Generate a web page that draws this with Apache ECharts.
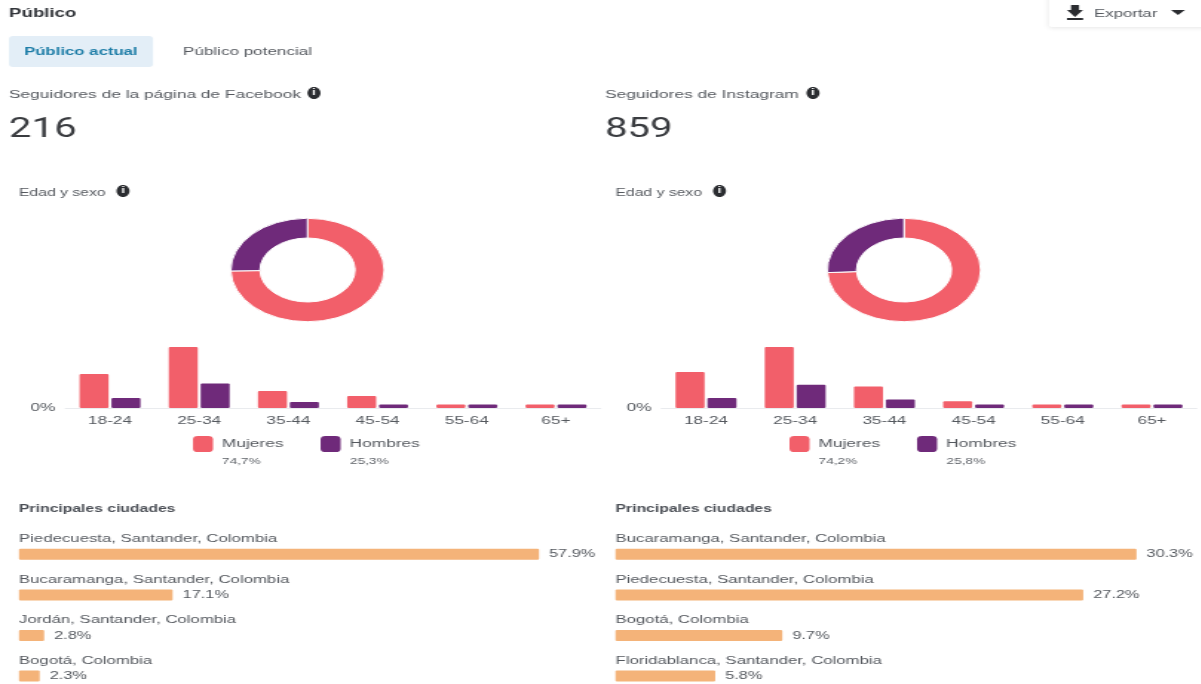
<!DOCTYPE html>
<html>
<head>
<meta charset="utf-8">
<title>Público</title>
<style>
  html, body { margin: 0; padding: 0; background: #fff; overflow: hidden; }
  #chart { height: 684px; transform-origin: 0 0; }
</style>
</head>
<body>
<div id="chart"></div>
<script src="https://cdn.jsdelivr.net/npm/echarts@6/dist/echarts.min.js"></script>
<script>
const FONT = 'Liberation Sans'
const RED = '#f25f6a'
const PURPLE = '#6f2a7a'
const ORANGE = '#f4b379'
const TEXT = '#55595f'

// the reference screenshot is stretched sideways, so the whole page is drawn
// narrow and widened with css. all x values below go through px()
const SX = 1.484
const px = x => x / SX

const ageGroups = ['18-24', '25-34', '35-44', '45-54', '55-64', '65+']

// facebook, left column
const fbFollowers = '216'
const fbWomen = [19.4, 34.8, 9.7, 6.8, 2, 2]
const fbMen = [5.7, 14, 3.4, 2, 2, 2]
const fbShare = [74.7, 25.3]
const fbShareLabels = ['74,7%', '25,3%']
const fbCities = ['Piedecuesta, Santander, Colombia', 'Bucaramanga, Santander, Colombia', 'Jordán, Santander, Colombia', 'Bogotá, Colombia']
const fbCityValues = [57.9, 17.1, 2.8, 2.3]

// instagram, right column
const igFollowers = '859'
const igWomen = [20.5, 34.8, 12.2, 3.8, 2, 2]
const igMen = [5.7, 13.3, 4.8, 2, 2, 2]
const igShare = [74.2, 25.8]
const igShareLabels = ['74,2%', '25,8%']
const igCities = ['Bucaramanga, Santander, Colombia', 'Piedecuesta, Santander, Colombia', 'Bogotá, Colombia', 'Floridablanca, Santander, Colombia']
const igCityValues = [30.3, 27.2, 9.7, 5.8]

const el = document.getElementById('chart')
el.style.width = px(1201) + 'px'
el.style.transform = `scaleX(${SX})`
const chart = echarts.init(el)

const txt = (x, y, text, size, color, weight, family) => ({
  type: 'text',
  x: px(x), y,
  z: 10,
  style: {
    text,
    fill: color || TEXT,
    font: `${weight || 'normal'} ${size}px "${family || FONT}"`,
    verticalAlign: 'middle'
  }
})

const info = (x, y) => ({
  type: 'group',
  z: 10,
  children: [
    { type: 'ellipse', shape: { cx: px(x), cy: y, rx: px(6.5), ry: 6 }, style: { fill: '#2b2d31' } },
    {
      type: 'text', x: px(x), y,
      style: { text: 'i', fill: '#fff', font: `bold 9px "${FONT}"`, align: 'center', verticalAlign: 'middle' }
    }
  ]
})

const column = (dx, idx, o) => {
  const grids = [
    { left: px(o.barLeft), top: 347, width: px(535.2), height: 61, outerBoundsMode: 'none' },
    { left: px(o.cityLeft), top: 534, width: px(o.cityWidth), height: 162.4, outerBoundsMode: 'none' }
  ]
  const xAxes = [
    {
      type: 'category', gridIndex: idx * 2, data: ageGroups,
      axisTick: { show: false },
      axisLine: { lineStyle: { color: '#e9ebee' } },
      axisLabel: { color: TEXT, fontFamily: FONT, fontSize: 11.6, margin: 7 }
    },
    { type: 'value', gridIndex: idx * 2 + 1, min: 0, max: o.cityMax, show: false }
  ]
  const yAxes = [
    {
      type: 'value', gridIndex: idx * 2, min: 0, max: 34.8, interval: 34.8,
      splitLine: { show: false },
      axisLine: { show: false },
      axisTick: { show: false },
      axisLabel: {
        color: TEXT, fontFamily: FONT, fontSize: 11.6, margin: px(10),
        padding: [4, 0, 0, 0],
        formatter: v => (v === 0 ? '0%' : '')
      }
    },
    {
      type: 'category', gridIndex: idx * 2 + 1, data: o.cities, inverse: true,
      axisLine: { show: false },
      axisTick: { show: false },
      axisLabel: {
        inside: true, margin: 0, align: 'left', verticalAlign: 'bottom',
        padding: [0, 0, 10, 0],
        color: TEXT, fontFamily: FONT, fontSize: 11.3
      }
    }
  ]
  const barOpts = { type: 'bar', barWidth: px(29), barGap: '10%', xAxisIndex: idx * 2, yAxisIndex: idx * 2 }
  const series = [
    { ...barOpts, name: 'Mujeres', data: o.women, itemStyle: { color: RED, borderRadius: 1 } },
    { ...barOpts, name: 'Hombres', data: o.men, itemStyle: { color: PURPLE, borderRadius: 1 } },
    {
      type: 'bar', name: 'Ciudades', data: o.cityValues, barWidth: 11,
      xAxisIndex: idx * 2 + 1, yAxisIndex: idx * 2 + 1,
      itemStyle: { color: ORANGE, borderRadius: 1 },
      label: {
        show: true, position: 'right', distance: px(10), color: TEXT,
        fontFamily: FONT, fontSize: 11,
        formatter: p => p.value + '%'
      }
    },
    {
      type: 'pie', radius: [32, 51.7], center: [px(307.5 + dx), 270],
      startAngle: 90, silent: true,
      label: { show: false },
      labelLine: { show: false },
      itemStyle: { borderColor: '#fff', borderWidth: 1 },
      data: [
        { name: 'Mujeres', value: o.share[0], itemStyle: { color: RED } },
        { name: 'Hombres', value: o.share[1], itemStyle: { color: PURPLE } }
      ]
    }
  ]
  const legend = {
    left: px(193 + dx), top: 436, itemWidth: px(20), itemHeight: 16, itemGap: px(37),
    icon: 'roundRect', padding: 0,
    data: ['Mujeres', 'Hombres'],
    textStyle: { color: TEXT, fontFamily: FONT, fontSize: 11.7, padding: [5, 0, 0, 1] }
  }
  const graphic = [
    txt(9 + dx - o.headShift, 95, o.heading, 11.7),
    info(o.infoX, 93),
    txt(9 + dx - o.headShift, 130, o.followers, 27, '#3a3c40', 'normal', 'Roboto'),
    txt(19 + dx, 193, 'Edad y sexo', 10.6),
    info(123 + dx, 191),
    txt(222 + dx, 461, o.shareLabels[0], 9.2, '#5f6369'),
    txt(350 + dx, 461, o.shareLabels[1], 9.2, '#5f6369'),
    txt(19 + dx, 509, 'Principales ciudades', 10.6, '#4b4f56', 'bold')
  ]
  return { grids, xAxes, yAxes, series, legend, graphic }
}

const left = column(0, 0, {
  barLeft: 65.4, cityLeft: 19, cityWidth: 520, cityMax: 57.9, headShift: 0, infoX: 314,
  heading: 'Seguidores de la página de Facebook', followers: fbFollowers,
  women: fbWomen, men: fbMen, share: fbShare, shareLabels: fbShareLabels,
  cities: fbCities, cityValues: fbCityValues
})
const right = column(596.5, 1, {
  barLeft: 661.4, cityLeft: 615.5, cityWidth: 521, cityMax: 30.3, headShift: 0.5, infoX: 813,
  heading: 'Seguidores de Instagram', followers: igFollowers,
  women: igWomen, men: igMen, share: igShare, shareLabels: igShareLabels,
  cities: igCities, cityValues: igCityValues
})

const pageHeader = [
  txt(9, 14, 'Público', 12.6, '#33363b', 'bold'),
  { type: 'rect', shape: { x: px(9), y: 36, width: px(144), height: 31, r: 3 }, style: { fill: '#e3eef7' } },
  txt(24, 52, 'Público actual', 11.3, '#1f7ea8', 'bold'),
  txt(183, 52, 'Público potencial', 11.5, TEXT),
  {
    type: 'rect',
    shape: { x: px(1049), y: -6, width: px(160), height: 33, r: 2 },
    style: { fill: '#fff', shadowBlur: 4, shadowColor: 'rgba(0,0,0,0.1)', shadowOffsetY: 1 }
  },
  {
    type: 'polygon', z: 10,
    shape: { points: [[1071, 5], [1079, 5], [1079, 10], [1083, 10], [1075, 17], [1067, 10], [1071, 10]].map(p => [px(p[0]), p[1]]) },
    style: { fill: '#2b2d31' }
  },
  { type: 'rect', z: 10, shape: { x: px(1067), y: 18, width: px(16), height: 2 }, style: { fill: '#2b2d31' } },
  txt(1094, 14, 'Exportar', 11.3, TEXT),
  {
    type: 'polygon', z: 10,
    shape: { points: [[1171, 10], [1185, 10], [1178, 15]].map(p => [px(p[0]), p[1]]) },
    style: { fill: '#2b2d31' }
  }
]

chart.setOption({
  animation: false,
  backgroundColor: '#fff',
  grid: [...left.grids, ...right.grids],
  xAxis: [...left.xAxes, ...right.xAxes],
  yAxis: [...left.yAxes, ...right.yAxes],
  legend: [left.legend, right.legend],
  series: [...left.series, ...right.series],
  graphic: { elements: [...pageHeader, ...left.graphic, ...right.graphic] }
})
</script>
</body>
</html>
